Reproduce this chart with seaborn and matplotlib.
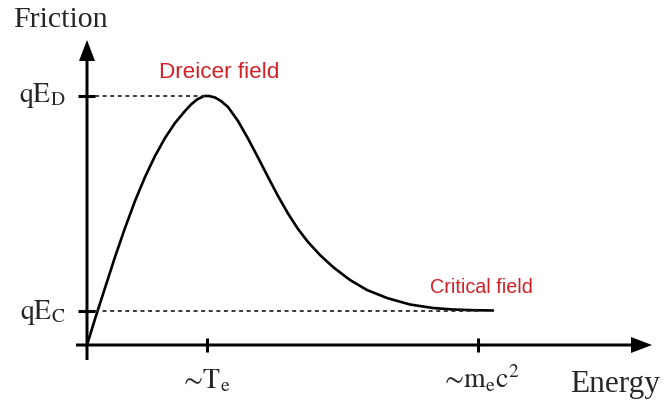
import matplotlib
matplotlib.use("Agg")
import matplotlib.pyplot as plt
import seaborn as sns
import pandas as pd

# Friction force vs. particle energy (schematic, arbitrary units)
energy = [0, 8, 18, 28, 38, 48, 58, 68, 78, 88, 98, 104, 110, 117, 122,
          128, 134, 141, 151, 161, 171, 181, 191, 201, 211, 221, 233, 246,
          263, 280, 300, 323, 346, 366, 386, 406]
friction = [0, 26, 57, 88, 117, 144, 168, 189, 207, 222, 234, 240.5, 245.5,
            249, 249, 247.5, 244, 238, 224, 206.5, 187.5, 168, 149, 131.5,
            116, 103, 90, 78, 65, 55, 47, 40.5, 37, 35.5, 34.8, 34.5]

# Reference levels on each axis
y_levels = [249, 34.5]
y_labels = [r"$\mathrm{qE_D}$", r"$\mathrm{qE_C}$"]
x_levels = [120, 391]
x_labels = [r"$\sim\!\mathrm{T_e}$", r"$\sim\!\mathrm{m_ec^2}$"]
peak_energy = 119
critical_end = 393

sns.set_style("white")
plt.rcParams["mathtext.fontset"] = "stix"
plt.rcParams["font.family"] = ["Liberation Serif", "DejaVu Serif"]

fig = plt.figure(figsize=(6.66, 4.03), dpi=100)
ax = fig.add_axes([0, 0, 1, 1])
ax.set_xlim(-87, 579)
ax.set_ylim(-58, 345)
ax.axis("off")

df = pd.DataFrame({"energy": energy, "friction": friction})
sns.lineplot(data=df, x="energy", y="friction", color="black", lw=1.9,
             sort=False, estimator=None, ax=ax)

# Axes with arrow heads
ax.arrow(0, -15, 0, 320, width=3, head_width=16, head_length=21,
         length_includes_head=True, color="black", lw=0)
ax.arrow(-11, 0, 576, 0, width=3, head_width=16, head_length=21,
         length_includes_head=True, color="black", lw=0)

# Ticks
for yv in y_levels:
    ax.plot([-9, 8], [yv, yv], color="black", lw=2.2, solid_capstyle="butt")
for xv in x_levels:
    ax.plot([xv, xv], [-7, 7], color="black", lw=2.2, solid_capstyle="butt")

# Dotted guide lines
ax.plot([8, peak_energy], [y_levels[0], y_levels[0]], color="#2a2a2a",
        lw=1.3, ls=(0, (2.2, 2.0)))
ax.plot([8, critical_end], [y_levels[1], y_levels[1]], color="#2a2a2a",
        lw=1.3, ls=(0, (2.2, 2.0)))

# Tick labels
ax.text(-21, 243, y_labels[0], ha="right", va="baseline", fontsize=20)
ax.text(-21, 26, y_labels[1], ha="right", va="baseline", fontsize=20)
ax.text(x_levels[0] - 2, -43, x_labels[0], ha="center", va="baseline", fontsize=20)
ax.text(x_levels[1] + 2, -43, x_labels[1], ha="center", va="baseline", fontsize=20)

# Axis titles
ax.text(-74, 318, "Friction", ha="left", va="baseline", fontsize=21.5)
ax.text(483, -47, "Energy", ha="left", va="baseline", fontsize=22.5)

# Annotations
red = "#d42027"
ax.text(72, 267, "Dreicer field", ha="left", va="baseline", fontsize=16.2,
        color=red, family=["Liberation Sans", "DejaVu Sans"])
ax.text(343, 52, "Critical field", ha="left", va="baseline", fontsize=14.2,
        color=red, family=["Liberation Sans", "DejaVu Sans"])

fig.savefig("out.png", dpi=100)
